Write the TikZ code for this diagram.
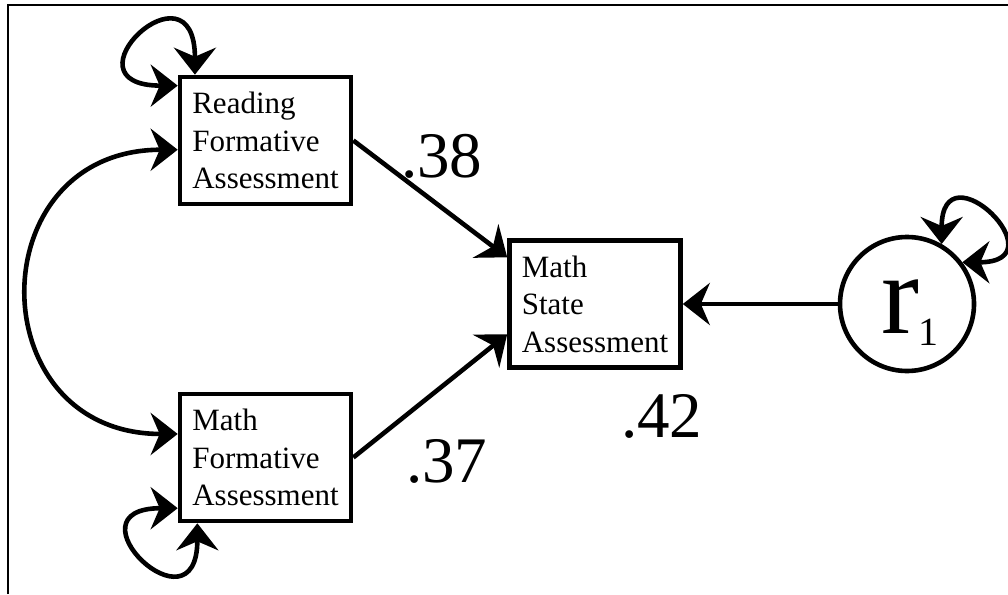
\documentclass[tikz,border=0pt]{standalone}
\usepackage{fontspec}
\setmainfont{Liberation Serif}
\usetikzlibrary{arrows.meta}
\begin{document}
\begin{tikzpicture}[x=1pt,y=1pt,
  lw/.style={line width=4.6pt},
  box/.style={draw,lw,rectangle,minimum width=171pt,minimum height=127pt,inner sep=0pt,align=left,font=\fontsize{31}{37.5}\selectfont},
  latent/.style={draw,lw,circle,minimum size=134pt,inner sep=0pt},
  path/.style={lw,-{Stealth[length=27pt,width=42pt,inset=9pt]}},
  cov/.style={lw,{Stealth[length=27pt,width=42pt,inset=9pt]}-{Stealth[length=27pt,width=42pt,inset=9pt]}},
  coef/.style={anchor=base west,inner sep=0pt,font=\fontsize{65}{65}\selectfont}
]
\useasboundingbox (0,0) rectangle (1008,-594);
\draw[line width=2pt] (8,-594) -- (8,-5) -- (1008,-5);

\node[box] (rfa) at (265.5,-140.5) {Reading\\Formative\\Assessment};
\node[box] (mfa) at (265.5,-457.5) {Math\\Formative\\Assessment};
\node[box] (msa) at (595,-304) {Math\\State\\Assessment};
\node[latent] (r1) at (907,-304) {};
\node[anchor=base,inner sep=0pt] (r1lab) at (910,-333) {\fontsize{114}{114}\selectfont r\raisebox{-12pt}{\fontsize{40}{40}\selectfont 1}};

\draw[path] (rfa.east) -- (msa.152);
\draw[path] (mfa.east) -- (msa.199);
\draw[path] (r1) -- (msa);

\draw[cov] (rfa.186) to[out=180,in=180,distance=199pt] (mfa.165);
\draw[cov] (rfa.137) to[out=90,in=180,distance=120pt] (rfa.148);
\draw[cov] (mfa.210) to[out=180,in=-90,distance=115pt] (mfa.224);
\draw[cov] (r1.60) to[out=90,in=0,distance=100pt] (r1.37);

\node[coef] (c38) at (401,-177) {.38};
\node[coef] (c37) at (406,-482) {.37};
\node[coef] (c42) at (621,-437) {.42};
\end{tikzpicture}
\end{document}
